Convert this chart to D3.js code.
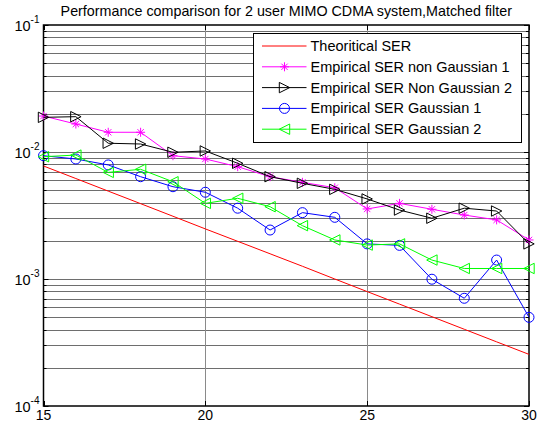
<!DOCTYPE html>
<html>
<head>
<meta charset="utf-8">
<script src="https://cdn.jsdelivr.net/npm/d3@7"></script>
<style>
  body { margin: 0; background: #fff; }
  svg { display: block; font-family: "Liberation Sans", Arial, sans-serif; }
</style>
</head>
<body>
<div id="chart"></div>
<script>
const snr = [15, 16, 17, 18, 19, 20, 21, 22, 23, 24, 25, 26, 27, 28, 29, 30];
const theoretical = [7.76e-3, 6.18e-3, 4.92e-3, 3.92e-3, 3.12e-3, 2.48e-3, 1.98e-3, 1.58e-3, 1.26e-3, 1.00e-3, 7.96e-4, 6.34e-4, 5.05e-4, 4.02e-4, 3.20e-4, 2.55e-4];
const nonGauss1 = [0.0192, 0.0166, 0.0143, 0.0143, 0.00935, 0.00881, 0.00766, 0.00639, 0.00577, 0.00523, 0.00356, 0.00394, 0.00354, 0.00319, 0.00292, 0.00203];
const nonGauss2 = [0.01875, 0.01897, 0.01172, 0.01156, 0.00995, 0.01019, 0.00815, 0.00639, 0.00567, 0.00508, 0.00427, 0.00349, 0.00301, 0.00361, 0.00343, 0.00189];
const gauss1 = [0.00935, 0.00881, 0.00791, 0.00639, 0.00533, 0.00482, 0.00361, 0.00243, 0.00333, 0.00306, 0.00189, 0.00184, 0.000996, 0.000705, 0.00141, 0.000499];
const gauss2 = [0.00918, 0.00946, 0.00691, 0.00731, 0.00583, 0.00394, 0.00432, 0.00371, 0.00263, 0.00203, 0.00185, 0.00189, 0.00141, 0.00121, 0.00121, 0.00121];
const xTicks = [15, 20, 25, 30];
const yTicks = [1e-4, 1e-3, 1e-2, 1e-1];
const yExp = ["-4", "-3", "-2", "-1"];

const series = [
  { name: "Theoritical SER", values: theoretical, color: "#ff0000", marker: "none" },
  { name: "Empirical SER non Gaussian 1", values: nonGauss1, color: "#ff00ff", marker: "star" },
  { name: "Empirical SER Non Gaussian 2", values: nonGauss2, color: "#000000", marker: "right" },
  { name: "Empirical SER Gaussian 1", values: gauss1, color: "#0000ff", marker: "circle" },
  { name: "Empirical SER Gaussian 2", values: gauss2, color: "#00ff00", marker: "left" }
];

const W = 541, H = 427;
const margin = { top: 25, right: 12, bottom: 21, left: 43.5 };

const svg = d3.select("#chart").append("svg")
  .attr("width", W).attr("height", H);

const x = d3.scaleLinear().domain([15, 30]).range([margin.left, W - margin.right]);
const y = d3.scaleLog().domain([1e-4, 1e-1]).range([H - margin.bottom, margin.top]);

// grid
const minor = [];
[1e-4, 1e-3, 1e-2].forEach(d => { for (let k = 1; k <= 9; k++) minor.push(d * k); });
minor.push(1e-1);
svg.append("g").selectAll("line").data(minor.filter(v => v > 1e-4 && v < 1e-1)).enter()
  .append("line")
  .attr("x1", x(15)).attr("x2", x(30))
  .attr("y1", d => Math.round(y(d)) + 0.5).attr("y2", d => Math.round(y(d)) + 0.5)
  .attr("stroke", "#6e6e6e").attr("stroke-width", 1);
svg.append("g").selectAll("line").data([20, 25]).enter()
  .append("line")
  .attr("x1", d => Math.round(x(d)) + 0.5).attr("x2", d => Math.round(x(d)) + 0.5)
  .attr("y1", y(1e-1)).attr("y2", y(1e-4))
  .attr("stroke", "#8a8a8a").attr("stroke-width", 1);

// ticks (inward) on all sides
const tk = svg.append("g").attr("stroke", "#000").attr("stroke-width", 1);
minor.forEach(v => {
  const yy = Math.round(y(v)) + 0.5;
  const len = [1e-4, 1e-3, 1e-2, 1e-1].includes(v) ? 5 : 3;
  tk.append("line").attr("x1", x(15)).attr("x2", x(15) + len).attr("y1", yy).attr("y2", yy);
  tk.append("line").attr("x1", x(30)).attr("x2", x(30) - len).attr("y1", yy).attr("y2", yy);
});
xTicks.forEach(v => {
  const xx = Math.round(x(v)) + 0.5;
  tk.append("line").attr("x1", xx).attr("x2", xx).attr("y1", y(1e-4)).attr("y2", y(1e-4) - 5);
  tk.append("line").attr("x1", xx).attr("x2", xx).attr("y1", y(1e-1)).attr("y2", y(1e-1) + 5);
});

// frame
svg.append("rect")
  .attr("x", x(15)).attr("y", y(1e-1))
  .attr("width", x(30) - x(15)).attr("height", y(1e-4) - y(1e-1))
  .attr("fill", "none").attr("stroke", "#000").attr("stroke-width", 1.5);

// tick labels
svg.append("g").selectAll("text").data(xTicks).enter()
  .append("text")
  .attr("x", d => x(d)).attr("y", H - margin.bottom + 14)
  .attr("text-anchor", "middle").attr("font-size", 14)
  .text(d => d);

yTicks.forEach((v, i) => {
  const t = svg.append("text")
    .attr("x", x(15) - 4).attr("y", y(v) + 6)
    .attr("text-anchor", "end").attr("font-size", 14.5);
  t.append("tspan").text("10");
  t.append("tspan").attr("dy", -8).attr("font-size", 10).text(yExp[i]);
});

// title
svg.append("text")
  .attr("x", (x(15) + x(30)) / 2).attr("y", 16)
  .attr("text-anchor", "middle").attr("font-size", 14.3)
  .text("Performance comparison for 2 user MIMO CDMA system,Matched filter");

// markers
function drawMarker(g, type, cx, cy, color) {
  const s = 5.2;
  if (type === "circle") {
    g.append("circle").attr("cx", cx).attr("cy", cy).attr("r", 5)
      .attr("fill", "none").attr("stroke", color).attr("stroke-width", 1);
  } else if (type === "right") {
    g.append("path").attr("d", `M${cx - s},${cy - s}L${cx + s},${cy}L${cx - s},${cy + s}Z`)
      .attr("fill", "none").attr("stroke", color).attr("stroke-width", 1);
  } else if (type === "left") {
    g.append("path").attr("d", `M${cx + s},${cy - s}L${cx - s},${cy}L${cx + s},${cy + s}Z`)
      .attr("fill", "none").attr("stroke", color).attr("stroke-width", 1);
  } else if (type === "star") {
    const r = 4.5, d = r * 0.7;
    g.append("path")
      .attr("d", `M${cx - r},${cy}L${cx + r},${cy}M${cx},${cy - r}L${cx},${cy + r}M${cx - d},${cy - d}L${cx + d},${cy + d}M${cx - d},${cy + d}L${cx + d},${cy - d}`)
      .attr("fill", "none").attr("stroke", color).attr("stroke-width", 1);
  }
}

const line = d3.line().x((d, i) => x(snr[i])).y(d => y(d));
const plot = svg.append("g");
series.forEach(s => {
  plot.append("path").datum(s.values)
    .attr("d", line)
    .attr("fill", "none").attr("stroke", s.color).attr("stroke-width", 1);
  if (s.marker !== "none") {
    s.values.forEach((v, i) => drawMarker(plot, s.marker, x(snr[i]), y(v), s.color));
  }
});

// legend
const lg = svg.append("g");
const lx = 253, ly = 33, lw = 268, lh = 109;
lg.append("rect").attr("x", lx + 0.5).attr("y", ly + 0.5).attr("width", lw).attr("height", lh)
  .attr("fill", "#fff").attr("stroke", "#000").attr("stroke-width", 1);
series.forEach((s, i) => {
  const cy = ly + 13 + i * 20.8;
  lg.append("line").attr("x1", 262).attr("x2", 306.5).attr("y1", cy).attr("y2", cy)
    .attr("stroke", s.color).attr("stroke-width", 1);
  if (s.marker !== "none") drawMarker(lg, s.marker, 284.5, cy, s.color);
  lg.append("text").attr("x", 310.5).attr("y", cy + 5)
    .attr("font-size", 14.5).text(s.name);
});
</script>
</body>
</html>
